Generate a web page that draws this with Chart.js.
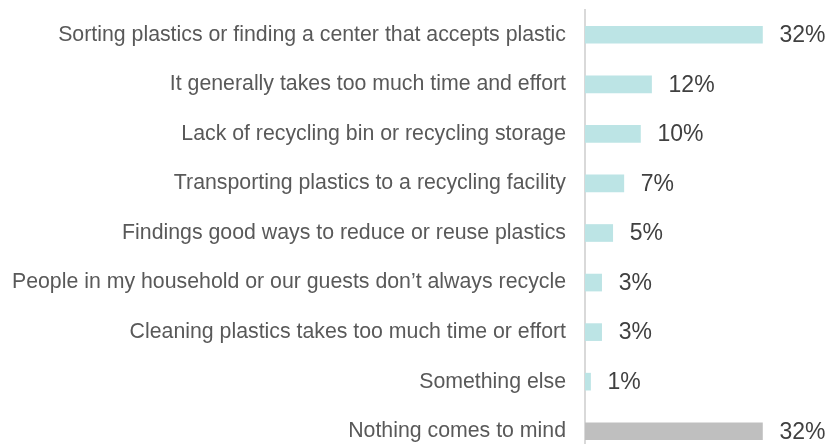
<!DOCTYPE html>
<html>
<head>
<meta charset="utf-8">
<script src="https://cdn.jsdelivr.net/npm/chart.js@4"></script>
<style>
  html, body { margin: 0; padding: 0; background: #fff; overflow: hidden; }
  canvas { display: block; }
</style>
</head>
<body>
<canvas id="barChart" width="829" height="456"></canvas>
<script>
var categories = [
    "Sorting plastics or finding a center that accepts plastic",
    "It generally takes too much time and effort",
    "Lack of recycling bin or recycling storage",
    "Transporting plastics to a recycling facility",
    "Findings good ways to reduce or reuse plastics",
    "People in my household or our guests don\u2019t always recycle",
    "Cleaning plastics takes too much time or effort",
    "Something else",
    "Nothing comes to mind"
];
var shares = [32, 12, 10, 7, 5, 3, 3, 1, 32];
var barColors = ["#bce4e5", "#bce4e5", "#bce4e5", "#bce4e5", "#bce4e5",
                 "#bce4e5", "#bce4e5", "#bce4e5", "#bfbfbf"];

var fontFamily = '"Liberation Sans", Arial, sans-serif';

// percent labels to the right of each bar
var valueLabels = {
    id: 'valueLabels',
    afterDatasetsDraw: function (chart) {
        var ctx = chart.ctx;
        var meta = chart.getDatasetMeta(0);
        ctx.save();
        ctx.font = '23px ' + fontFamily;
        ctx.fillStyle = '#404040';
        ctx.textAlign = 'left';
        ctx.textBaseline = 'middle';
        meta.data.forEach(function (bar, i) {
            ctx.fillText(shares[i] + '%', bar.x + 17, bar.y + 1);
        });
        ctx.restore();
    }
};

var ctx = document.getElementById("barChart").getContext("2d");
var myBar = new Chart(ctx, {
    type: 'bar',
    data: {
        labels: categories,
        datasets: [{
            data: shares,
            backgroundColor: barColors,
            barThickness: 17
        }]
    },
    options: {
        indexAxis: 'y',
        responsive: false,
        animation: false,
        layout: { padding: { top: 10, right: 0, bottom: 0, left: 0 } },
        plugins: {
            legend: { display: false },
            tooltip: { enabled: false }
        },
        scales: {
            x: {
                display: false,
                min: 0,
                max: 44
            },
            y: {
                afterFit: function (scale) {
                    scale.width = 585;
                    // label rows are centred in their bands, no extra room needed
                    scale.paddingTop = 0;
                    scale.paddingBottom = 0;
                },
                grid: { color: 'transparent', drawTicks: false },
                border: { display: true, color: '#d9d9d9', width: 2 },
                ticks: {
                    padding: 19,
                    autoSkip: false,
                    color: '#595959',
                    font: { family: fontFamily, size: 21.3 }
                }
            }
        }
    },
    plugins: [valueLabels]
});
</script>
</body>
</html>
